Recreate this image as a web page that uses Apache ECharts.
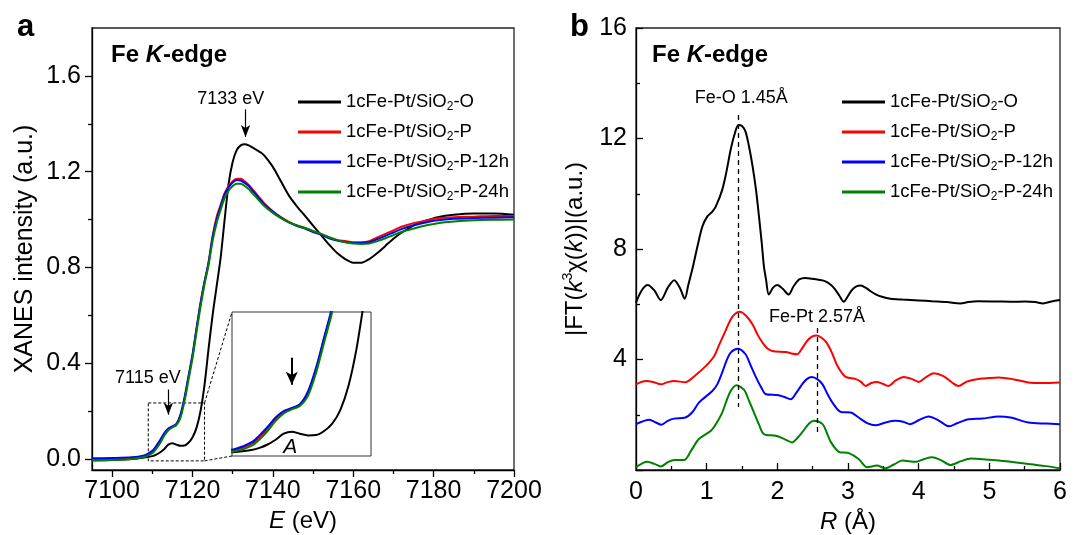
<!DOCTYPE html>
<html>
<head>
<meta charset="utf-8">
<script src="https://cdn.jsdelivr.net/npm/echarts@6/dist/echarts.min.js"></script>
<style>html,body{margin:0;padding:0;background:#fff;}#c{width:1088px;height:535px;}</style>
</head>
<body>
<div id="c"></div>
<script>
// ---------- Panel a: XANES ----------
const energy = [7095,7100,7105,7108,7110,7111,7112,7113,7114,7115,7116,7117,7118,7119,7120,7121,7122,7123,7124,7125,7126,7127,7128,7129,7130,7131,7132,7133,7134,7135,7136,7137,7138,7140,7142,7144,7146,7148,7150,7152,7154,7156,7158,7160,7162,7164,7166,7168,7170,7172,7175,7178,7181,7185,7190,7195,7200];
const xanesO = [-0.005,-0.004,0.0,0.006,0.012,0.018,0.028,0.042,0.06,0.066,0.06,0.055,0.056,0.068,0.09,0.13,0.2,0.31,0.46,0.6,0.72,0.84,1.0,1.15,1.24,1.29,1.31,1.315,1.31,1.30,1.29,1.28,1.265,1.22,1.16,1.10,1.055,1.015,0.975,0.935,0.895,0.86,0.835,0.82,0.82,0.835,0.86,0.89,0.92,0.945,0.975,0.995,1.01,1.02,1.025,1.025,1.02];
const xanesP = [0.0,0.002,0.005,0.012,0.03,0.05,0.075,0.105,0.125,0.135,0.145,0.18,0.25,0.34,0.43,0.54,0.65,0.74,0.82,0.93,1.01,1.06,1.11,1.14,1.16,1.17,1.17,1.16,1.145,1.125,1.105,1.085,1.065,1.035,1.01,0.99,0.975,0.965,0.95,0.94,0.925,0.915,0.91,0.905,0.905,0.91,0.925,0.94,0.955,0.97,0.985,0.995,1.005,1.01,1.012,1.015,1.015];
const xanesP12 = [0.003,0.004,0.007,0.015,0.034,0.055,0.08,0.108,0.127,0.136,0.147,0.185,0.255,0.345,0.435,0.545,0.65,0.74,0.82,0.925,1.0,1.055,1.105,1.135,1.155,1.165,1.163,1.153,1.14,1.12,1.1,1.08,1.062,1.032,1.008,0.988,0.973,0.962,0.948,0.937,0.922,0.912,0.906,0.902,0.902,0.906,0.918,0.932,0.946,0.96,0.976,0.988,0.997,1.003,1.006,1.008,1.01];
const xanesP24 = [-0.006,-0.004,0.0,0.008,0.024,0.043,0.068,0.098,0.12,0.132,0.142,0.172,0.24,0.33,0.42,0.53,0.635,0.73,0.81,0.91,0.985,1.04,1.09,1.12,1.14,1.15,1.15,1.14,1.127,1.108,1.09,1.072,1.055,1.028,1.006,0.988,0.975,0.965,0.952,0.94,0.926,0.914,0.905,0.9,0.898,0.9,0.91,0.922,0.935,0.948,0.962,0.975,0.985,0.992,0.997,0.999,1.0];
const eTicksMajor = [7100,7120,7140,7160,7180,7200];
const eTicksMinor = [7110,7130,7150,7170,7190];
const aTicksMajor = [0,0.4,0.8,1.2,1.6];
const aTicksMinor = [0.2,0.6,1.0,1.4];

// ---------- Panel b: FT-EXAFS ----------
const rO = [0,0.08,0.165,0.26,0.35,0.45,0.54,0.62,0.69,0.74,0.8,0.87,0.94,1.01,1.08,1.13,1.22,1.28,1.34,1.4,1.45,1.5,1.55,1.6,1.65,1.7,1.74,1.78,1.81,1.84,1.88,1.94,2.0,2.08,2.16,2.23,2.31,2.4,2.49,2.6,2.68,2.76,2.82,2.88,2.94,3.0,3.06,3.12,3.18,3.25,3.32,3.4,3.48,3.6,3.77,4.0,4.19,4.4,4.59,4.7,4.84,5.1,5.32,5.5,5.65,5.76,5.88,6.0];
const ftO = [6.06,6.5,6.7,6.5,6.15,6.6,6.87,6.6,6.2,6.7,7.3,8.1,8.82,9.18,9.35,9.54,10.14,10.8,11.6,12.2,12.49,12.45,12.25,11.7,10.99,10.1,9.18,8.2,7.37,6.9,6.35,6.6,6.7,6.55,6.35,6.65,6.9,6.95,6.92,6.88,6.83,6.7,6.53,6.3,6.09,6.3,6.53,6.65,6.68,6.6,6.47,6.35,6.27,6.2,6.17,6.14,6.11,6.08,6.03,6.08,6.11,6.1,6.09,6.1,6.08,6.03,6.1,6.15];
const rP = [0,0.14,0.25,0.35,0.45,0.54,0.7,0.85,0.99,1.1,1.18,1.26,1.34,1.4,1.47,1.55,1.65,1.72,1.79,1.86,1.93,2.12,2.2,2.28,2.35,2.42,2.49,2.56,2.63,2.7,2.78,2.85,2.96,3.1,3.18,3.25,3.33,3.41,3.49,3.57,3.68,3.79,3.9,4.0,4.1,4.21,4.35,4.48,4.56,4.68,4.8,5.0,5.13,5.35,5.55,5.75,6.0];
const ftP = [3.1,3.22,3.18,3.1,3.18,3.22,3.18,3.45,3.77,4.1,4.55,5.0,5.45,5.65,5.73,5.6,5.27,4.9,4.61,4.4,4.31,4.27,4.22,4.19,4.4,4.67,4.83,4.87,4.78,4.6,4.2,3.77,3.38,3.3,3.2,3.04,3.15,3.19,3.12,3.04,3.25,3.37,3.3,3.19,3.35,3.5,3.4,3.15,3.04,3.2,3.28,3.33,3.35,3.28,3.17,3.15,3.17];
const rP12 = [0,0.19,0.28,0.36,0.45,0.54,0.7,0.8,0.89,1.08,1.15,1.22,1.28,1.34,1.44,1.55,1.62,1.69,1.77,1.84,2.02,2.1,2.19,2.27,2.35,2.42,2.49,2.57,2.64,2.71,2.78,2.9,3.04,3.15,3.27,3.39,3.53,3.67,3.78,3.88,4.0,4.14,4.28,4.43,4.55,4.71,4.9,5.13,5.3,5.55,5.8,6.0];
const ftP12 = [1.66,1.82,1.72,1.64,1.78,1.86,1.9,2.1,2.44,2.86,3.1,3.53,3.95,4.25,4.39,4.19,3.8,3.4,3.0,2.74,2.71,2.64,2.56,2.8,3.1,3.3,3.37,3.28,3.1,2.75,2.44,2.1,2.08,1.9,1.7,1.62,1.72,1.78,1.75,1.66,1.8,1.94,1.8,1.58,1.7,1.84,1.86,1.94,1.9,1.72,1.68,1.66];
const rP24 = [0,0.16,0.26,0.35,0.45,0.54,0.68,0.78,0.89,1.06,1.14,1.22,1.28,1.34,1.42,1.53,1.6,1.67,1.74,1.81,1.98,2.1,2.21,2.28,2.35,2.45,2.52,2.64,2.7,2.76,2.87,3.01,3.15,3.27,3.41,3.53,3.65,3.77,3.96,4.08,4.19,4.32,4.45,4.6,4.74,5.13,5.55,5.8,6.0];
const ftP24 = [0.1,0.3,0.22,0.13,0.28,0.36,0.36,0.7,1.12,1.42,1.7,2.08,2.5,2.86,3.07,2.9,2.5,2.08,1.65,1.3,1.24,1.12,1.0,1.15,1.36,1.68,1.78,1.66,1.35,1.0,0.66,0.61,0.4,0.1,0.16,0.06,0.2,0.34,0.3,0.4,0.46,0.35,0.18,0.32,0.42,0.34,0.22,0.14,0.06];
const bTicksLabel = [4,8,12,16];

const names = ['1cFe-Pt/SiO2-O','1cFe-Pt/SiO2-P','1cFe-Pt/SiO2-P-12h','1cFe-Pt/SiO2-P-24h'];
const colors = ['#000000','#ff0000','#0000ff','#008000'];

const FONT = '"Liberation Sans", Arial, Helvetica, sans-serif';
const zip = (xs, ys) => xs.map((x, i) => [x, ys[i]]);

const chart = echarts.init(document.getElementById('c'), null, {renderer: 'canvas'});

const tickStyle = {color: '#000', width: 1.3};
function lineSeries(name, color, data, xi, yi, extra) {
  return Object.assign({
    type: 'line', name: name, data: data, xAxisIndex: xi, yAxisIndex: yi,
    symbol: 'none', smooth: 0.3, lineStyle: {color: color, width: 2}, itemStyle: {color: color},
    animation: false, silent: true, z: 3
  }, extra || {});
}

const xanesSets = [xanesO, xanesP, xanesP12, xanesP24];
const ftSets = [[rO, ftO], [rP, ftP], [rP12, ftP12], [rP24, ftP24]];

const series = [];
xanesSets.forEach((arr, i) => {
  const extra = {};
  if (i === 0) {
    extra.markLine = {
      silent: true, animation: false, label: {show: false},
      lineStyle: {color: '#000', width: 1.2, type: 'solid'},
      data: [
        [{coord: [7133.2, 1.46], symbol: 'none'}, {coord: [7133.2, 1.345], symbol: 'arrow', symbolSize: [7, 12]}],
        [{coord: [7114, 0.29], symbol: 'none'}, {coord: [7114, 0.185], symbol: 'arrow', symbolSize: [7, 12]}]
      ]
    };
    extra.markArea = {
      silent: true, animation: false,
      itemStyle: {color: 'rgba(0,0,0,0)', borderColor: '#000', borderWidth: 1, borderType: [3, 2]},
      data: [[{coord: [7109, 0.234]}, {coord: [7123, -0.008]}]]
    };
  }
  series.push(lineSeries(names[i], colors[i], zip(energy, arr), 0, 0, extra));
});
// inset
xanesSets.forEach((arr, i) => {
  const extra = {z: 6};
  if (i === 0) {
    extra.markLine = {
      silent: true, animation: false, label: {show: false},
      lineStyle: {color: '#000', width: 2, type: 'solid'},
      data: [[{coord: [7115, 0.285], symbol: 'none'}, {coord: [7115, 0.205], symbol: 'arrow', symbolSize: [9, 13]}]]
    };
  }
  series.push(lineSeries(names[i], colors[i], zip(energy, arr), 3, 3, extra));
});
ftSets.forEach((p, i) => {
  const extra = {};
  if (i === 0) {
    extra.markLine = {
      silent: true, animation: false, label: {show: false}, symbol: 'none',
      lineStyle: {color: '#000', width: 1.3, type: [5, 4]},
      data: [
        [{coord: [1.45, 12.85]}, {coord: [1.45, 2.28]}],
        [{coord: [2.57, 5.14]}, {coord: [2.57, 1.27]}]
      ]
    };
  }
  series.push(lineSeries(names[i], colors[i], zip(p[0], p[1]), 2, 2, extra));
});

const richSub = {
  s: {fontSize: 12, fontFamily: FONT, color: '#000', verticalAlign: 'bottom', lineHeight: 12}
};
function legendFmt(name) { return name.replace('SiO2', 'SiO{s|2}'); }
function makeLegend(left) {
  return {
    left: left, top: 86, orient: 'vertical', icon: 'rect', itemWidth: 43, itemHeight: 3,
    itemGap: 8, selectedMode: false, data: names, formatter: legendFmt,
    textStyle: {fontSize: 18.5, fontFamily: FONT, color: '#000', lineHeight: 22, rich: richSub}
  };
}

const axisNameRich = {
  i: {fontStyle: 'italic', fontSize: 24, fontFamily: FONT, color: '#000'},
  sup: {fontSize: 14, fontFamily: FONT, color: '#000', verticalAlign: 'top', lineHeight: 14}
};
const titleRich = {
  b: {fontSize: 24, fontWeight: 'bold', fontFamily: FONT, color: '#000'},
  bi: {fontSize: 24, fontWeight: 'bold', fontStyle: 'italic', fontFamily: FONT, color: '#000'}
};
const labelFont = {fontSize: 25, fontFamily: FONT, color: '#000'};

const option = {
  backgroundColor: '#fff',
  animation: false,
  title: [
    {text: 'a', left: 12, top: 7, textStyle: {fontSize: 31, fontWeight: 'bold', fontFamily: FONT, color: '#000'}},
    {text: 'b', left: 565, top: 7, textStyle: {fontSize: 31, fontWeight: 'bold', fontFamily: FONT, color: '#000'}},
    {text: '{b|Fe }{bi|K}{b|-edge}', left: 106, top: 38, textStyle: {rich: titleRich}},
    {text: '{b|Fe }{bi|K}{b|-edge}', left: 647, top: 38, textStyle: {rich: titleRich}}
  ],
  legend: [makeLegend(293), makeLegend(837)],
  grid: [
    {left: 92, top: 28, width: 422, height: 442, show: true, borderColor: '#222', borderWidth: 1.3, backgroundColor: 'rgba(0,0,0,0)', outerBoundsMode: 'none', containLabel: false},
    {left: 636, top: 28, width: 424, height: 442, show: true, borderColor: '#222', borderWidth: 1.3, backgroundColor: 'rgba(0,0,0,0)', outerBoundsMode: 'none', containLabel: false},
    {left: 232, top: 312, width: 139, height: 144, show: true, borderColor: '#333', borderWidth: 1, backgroundColor: '#fff', z: 5, outerBoundsMode: 'none', containLabel: false}
  ],
  xAxis: [
    {type: 'value', gridIndex: 0, min: 7095, max: 7200, position: 'bottom',
     axisLine: {show: true, onZero: false, lineStyle: tickStyle},
     axisTick: {show: true, inside: false, length: 7, lineStyle: tickStyle, customValues: eTicksMajor},
     axisLabel: Object.assign({show: true, customValues: eTicksMajor, formatter: v => String(v), margin: 9}, labelFont),
     splitLine: {show: false},
     name: '{i|E} (eV)', nameLocation: 'middle', nameGap: 38,
     nameTextStyle: {fontSize: 24, fontFamily: FONT, color: '#000', rich: axisNameRich}},
    {type: 'value', gridIndex: 0, min: 7095, max: 7200, position: 'bottom',
     axisLine: {show: false, onZero: false}, axisLabel: {show: false}, splitLine: {show: false},
     axisTick: {show: true, inside: false, length: 4, lineStyle: tickStyle, customValues: eTicksMinor}},
    {type: 'value', gridIndex: 1, min: 0, max: 6, interval: 1, position: 'bottom',
     axisLine: {show: true, onZero: false, lineStyle: tickStyle},
     axisTick: {show: true, inside: true, length: 7, lineStyle: tickStyle},
     minorTick: {show: true, splitNumber: 2, length: 4, lineStyle: tickStyle},
     axisLabel: Object.assign({show: true, margin: 10}, labelFont),
     splitLine: {show: false}, minorSplitLine: {show: false},
     name: '{i|R} (Å)', nameLocation: 'middle', nameGap: 38,
     nameTextStyle: {fontSize: 24, fontFamily: FONT, color: '#000', rich: axisNameRich}},
    {type: 'value', gridIndex: 2, min: 7107.6, max: 7124.8, show: false}
  ],
  yAxis: [
    {type: 'value', gridIndex: 0, min: -0.046, max: 1.8, position: 'left',
     axisLine: {show: true, onZero: false, lineStyle: tickStyle},
     axisTick: {show: true, inside: false, length: 7, lineStyle: tickStyle, customValues: aTicksMajor},
     axisLabel: Object.assign({show: true, customValues: aTicksMajor, formatter: v => v.toFixed(1), margin: 11}, labelFont),
     splitLine: {show: false},
     name: 'XANES intensity (a.u.)', nameLocation: 'middle', nameGap: 54,
     nameTextStyle: {fontSize: 25, fontFamily: FONT, color: '#000'}},
    {type: 'value', gridIndex: 0, min: -0.046, max: 1.8, position: 'left',
     axisLine: {show: false, onZero: false}, axisLabel: {show: false}, splitLine: {show: false},
     axisTick: {show: true, inside: false, length: 4, lineStyle: tickStyle, customValues: aTicksMinor}},
    {type: 'value', gridIndex: 1, min: 0, max: 16, interval: 4, position: 'left',
     axisLine: {show: true, onZero: false, lineStyle: tickStyle},
     axisTick: {show: true, inside: true, length: 7, lineStyle: tickStyle},
     minorTick: {show: true, splitNumber: 2, length: 4, lineStyle: tickStyle},
     axisLabel: Object.assign({show: true, customValues: bTicksLabel, margin: 9}, labelFont),
     splitLine: {show: false}, minorSplitLine: {show: false},
     name: '|FT({i|k}{sup|3}χ({i|k}))|(a.u.)', nameLocation: 'middle', nameGap: 47,
     nameTextStyle: {fontSize: 24, fontFamily: FONT, color: '#000', lineHeight: 28, rich: axisNameRich}},
    {type: 'value', gridIndex: 2, min: -0.006, max: 0.42, show: false}
  ],
  series: series
};
chart.setOption(option);

// annotations positioned through the axes' own scales
function px(xi, yi, pt) { return chart.convertToPixel({xAxisIndex: xi, yAxisIndex: yi}, pt); }
const annFont = {fontSize: 18, fontFamily: FONT, fill: '#000'};
function txt(p, text, extra) {
  return {type: 'text', x: p[0], y: p[1], silent: true, z: 10,
    style: Object.assign({text: text, align: 'center', verticalAlign: 'middle'}, annFont, extra || {})};
}
const boxTR = px(0, 0, [7123, 0.234]);
const boxBR = px(0, 0, [7123, -0.008]);
const insTL = px(3, 3, [7107.6, 0.42]);
const insBL = px(3, 3, [7107.6, -0.006]);
chart.setOption({
  graphic: [
    txt(px(0, 0, [7129.5, 1.505]), '7133 eV'),
    txt(px(0, 0, [7108.9, 0.338]), '7115 eV'),
    txt(px(3, 3, [7114.8, 0.02]), 'A', {fontSize: 21, fontStyle: 'italic'}),
    txt(px(2, 2, [1.49, 13.45]), 'Fe-O 1.45Å'),
    txt(px(2, 2, [2.56, 5.55]), 'Fe-Pt 2.57Å'),
    {type: 'line', silent: true, z: 10, shape: {x1: boxTR[0], y1: boxTR[1], x2: insTL[0], y2: insTL[1]},
     style: {stroke: '#000', lineWidth: 1, lineDash: [3, 2]}},
    {type: 'line', silent: true, z: 10, shape: {x1: boxBR[0], y1: boxBR[1], x2: insBL[0], y2: insBL[1]},
     style: {stroke: '#000', lineWidth: 1, lineDash: [3, 2]}}
  ]
});
</script>
</body>
</html>
